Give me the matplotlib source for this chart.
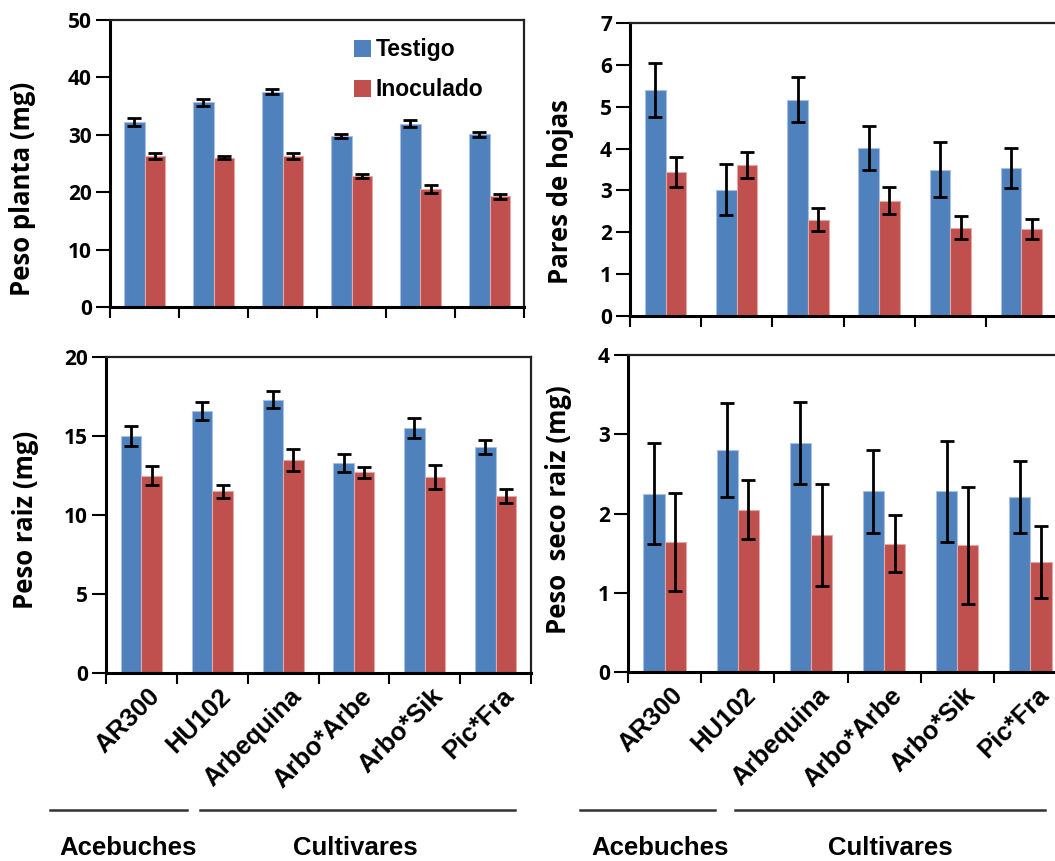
import matplotlib
matplotlib.use("Agg")
import matplotlib.pyplot as plt
import matplotlib.transforms as mtransforms
import numpy as np

categories = ["AR300", "HU102", "Arbequina", "Arbo*Arbe", "Arbo*Sik", "Pic*Fra"]
series_names = ["Testigo", "Inoculado"]

peso_planta_testigo = [32.2, 35.7, 37.5, 29.8, 31.9, 30.1]
peso_planta_testigo_err = [0.7, 0.6, 0.4, 0.4, 0.6, 0.4]
peso_planta_inoc = [26.3, 26.0, 26.3, 22.8, 20.6, 19.3]
peso_planta_inoc_err = [0.6, 0.3, 0.6, 0.3, 0.7, 0.4]

pares_testigo = [5.40, 3.02, 5.17, 4.01, 3.50, 3.53]
pares_testigo_err = [0.65, 0.60, 0.54, 0.52, 0.65, 0.48]
pares_inoc = [3.45, 3.61, 2.30, 2.75, 2.11, 2.07]
pares_inoc_err = [0.36, 0.32, 0.28, 0.32, 0.28, 0.24]

raiz_testigo = [15.0, 16.6, 17.3, 13.3, 15.5, 14.3]
raiz_testigo_err = [0.63, 0.58, 0.53, 0.58, 0.63, 0.47]
raiz_inoc = [12.5, 11.5, 13.5, 12.7, 12.4, 11.2]
raiz_inoc_err = [0.63, 0.40, 0.70, 0.34, 0.76, 0.47]

seco_testigo = [2.25, 2.80, 2.89, 2.28, 2.28, 2.21]
seco_testigo_err = [0.64, 0.59, 0.52, 0.52, 0.64, 0.45]
seco_inoc = [1.64, 2.05, 1.73, 1.62, 1.60, 1.39]
seco_inoc_err = [0.62, 0.37, 0.64, 0.36, 0.74, 0.45]

group_names = ["Acebuches", "Cultivares"]

BLUE = "#4F81BD"
RED = "#C0504D"
SANS = ["Liberation Sans", "DejaVu Sans"]
CAL = ["Open Sans", "DejaVu Sans"]

W, H = 1055, 861
fig = plt.figure(figsize=(W / 100, H / 100), dpi=100)


def px_axes(l, r, t, b):
    return fig.add_axes([l / W, 1 - b / H, (r - l) / W, (b - t) / H])


def draw(ax, tv, te, iv, ie, ymax, ystep, show_x):
    n = len(categories)
    x = np.arange(n)
    w = 0.29
    ax.bar(x - w / 2, tv, w, color=BLUE, edgecolor="#A9C0E0", linewidth=0.8,
           yerr=te, error_kw=dict(ecolor="black", elinewidth=2, capsize=5, capthick=2),
           label=series_names[0], zorder=2)
    ax.bar(x + w / 2, iv, w, color=RED, edgecolor="#E2A8A6", linewidth=0.8,
           yerr=ie, error_kw=dict(ecolor="black", elinewidth=2, capsize=5, capthick=2),
           label=series_names[1], zorder=2)
    ax.set_xlim(-0.5, n - 0.5)
    ax.set_ylim(0, ymax)
    ticks = np.arange(0, ymax + ystep / 2, ystep)
    ax.set_yticks(ticks)
    ax.set_yticklabels([f"{v:g}" for v in ticks],
                       fontfamily=CAL, fontweight="bold", fontsize=15)
    ax.set_xticks(np.arange(-0.5, n, 1.0))
    ax.set_xticklabels([])
    ax.tick_params(axis="x", which="major", direction="out", length=8, width=1.5)
    ax.tick_params(axis="y", direction="out", length=10, width=1.5, pad=3)
    if show_x:
        ax.set_xticks(x, minor=True)
        labs = ax.set_xticklabels(categories, minor=True, rotation=45, ha="right",
                                  rotation_mode="anchor", fontfamily=SANS,
                                  fontweight="bold", fontsize=18.5)
        ax.tick_params(axis="x", which="minor", length=0, pad=8)
        off = mtransforms.ScaledTranslation(6 / 100, 0, fig.dpi_scale_trans)
        for lab in labs:
            lab.set_transform(lab.get_transform() + off)
    for s in ["left", "bottom"]:
        ax.spines[s].set_linewidth(2.2)
        ax.spines[s].set_color("black")
    for s in ["top", "right"]:
        ax.spines[s].set_linewidth(1.6)
        ax.spines[s].set_color("#222222")


ax1 = px_axes(110, 524, 20, 307)
draw(ax1, peso_planta_testigo, peso_planta_testigo_err, peso_planta_inoc,
     peso_planta_inoc_err, 50, 10, False)
ax2 = px_axes(630, 1057, 23, 316)
draw(ax2, pares_testigo, pares_testigo_err, pares_inoc, pares_inoc_err, 7, 1, False)
ax3 = px_axes(106, 531, 357, 673)
draw(ax3, raiz_testigo, raiz_testigo_err, raiz_inoc, raiz_inoc_err, 20, 5, True)
ax4 = px_axes(628, 1067, 355, 672)
draw(ax4, seco_testigo, seco_testigo_err, seco_inoc, seco_inoc_err, 4, 1, True)

leg = ax1.legend(loc="upper left", bbox_to_anchor=((345 - 110) / 414, 1 - 9 / 287),
                 frameon=False, prop=dict(family=SANS, weight="bold", size=16.5),
                 handlelength=0.75, handleheight=0.75, handletextpad=0.2,
                 labelspacing=0.75, borderaxespad=0)
for h in leg.legend_handles:
    h.set_edgecolor("none")

ylabels = [("Peso planta (mg)", 23, 189), ("Pares de hojas", 560, 192),
           ("Peso raiz (mg)", 26, 520), ("Peso  seco raiz (mg)", 558, 510)]
for txt, xp, yp in ylabels:
    fig.text(xp / W, 1 - yp / H, txt, rotation=90, ha="center", va="center",
             fontfamily=CAL, fontweight="bold", fontsize=18.5)

# group brackets
lines = [(50, 187), (200, 515), (580, 715), (735, 1045)]
for x0, x1 in lines:
    fig.add_artist(plt.Line2D([x0 / W, x1 / W], [1 - 810 / H, 1 - 810 / H],
                              color="#333333", linewidth=1.8))
gl = [(group_names[0], 128), (group_names[1], 355), (group_names[0], 660), (group_names[1], 890)]
for txt, xp in gl:
    fig.text(xp / W, 1 - 848 / H, txt, ha="center", va="center",
             fontfamily=SANS, fontweight="bold", fontsize=18.5)

fig.savefig("out.png", dpi=100)
